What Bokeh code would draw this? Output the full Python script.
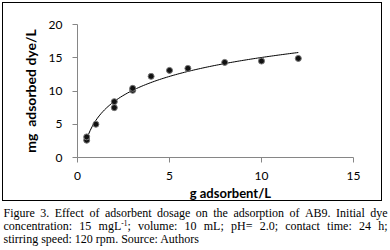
import numpy as np
from bokeh.plotting import figure
from bokeh.layouts import column
from bokeh.models import Range1d, FixedTicker
from bokeh.core.properties import value
from bokeh.embed import file_html
from bokeh.resources import INLINE

# data
dose = [0.5, 0.5, 1, 2, 2, 3, 3, 4, 5, 6, 8, 10, 12]
adsorbed = [2.6, 3.1, 5.0, 8.4, 7.5, 10.1, 10.4, 12.2, 13.1, 13.4, 14.3, 14.5, 14.9]
x_ticks = [0, 5, 10, 15]
y_ticks = [0, 5, 10, 15, 20]
x_title = "g adsorbent/L"
y_title = "mg\u00a0 adsorbed dye/L"
caption_line1 = "Figure 3. Effect of adsorbent dosage on the adsorption of AB9. Initial dye".split(" ")
caption_line2 = ["concentration:", "15", ("mgL", "-1", ";"), "volume:", "10", "mL;", "pH=", "2.0;",
                 "contact", "time:", "24", "h;"]
caption_line3 = "stirring speed: 120 rpm. Source: Authors"

# logarithmic trend line fitted to the data
b, a = np.polyfit(np.log(dose), adsorbed, 1)
fit_x = np.linspace(0.5, 12, 120)
fit_y = a + b * np.log(fit_x)

BL, BR, FW, FH = 74, 28, 276, 133

chart = figure(output_backend="svg", toolbar_location=None,
               frame_width=FW, frame_height=FH,
               min_border_left=BL, min_border_right=BR, min_border_top=21, min_border_bottom=26,
               x_range=Range1d(0, 15), y_range=Range1d(0, 20))
chart.background_fill_color = "white"
chart.border_fill_color = "white"
chart.outline_line_color = None
chart.xgrid.visible = False
chart.ygrid.visible = False

for ax in (chart.xaxis[0], chart.yaxis[0]):
    ax.axis_line_color = "#868686"
    ax.major_tick_line_color = "#868686"
    ax.minor_tick_line_color = None
    ax.major_tick_in = 0
    ax.major_tick_out = 5
    ax.major_label_text_font = "Lato"
    ax.major_label_text_font_size = "12px"
    ax.major_label_text_color = "black"
chart.xaxis[0].ticker = FixedTicker(ticks=x_ticks)
chart.yaxis[0].ticker = FixedTicker(ticks=y_ticks)
chart.xaxis[0].major_label_standoff = 9
chart.yaxis[0].major_label_standoff = 10
chart.yaxis[0].axis_label = y_title
chart.yaxis[0].axis_label_text_font = "Lato"
chart.yaxis[0].axis_label_text_font_style = "bold"
chart.yaxis[0].axis_label_text_font_size = "14px"
chart.yaxis[0].axis_label_text_color = "black"
chart.yaxis[0].axis_label_standoff = 7

chart.line(fit_x, fit_y, line_color="black", line_width=1)
chart.scatter(dose, adsorbed, size=6, fill_color="#111111", line_color="#777777", line_width=1)

# x-axis title strip under the chart, sharing the chart's x scale
XL_H = 17
xlab = figure(output_backend="svg", toolbar_location=None,
              frame_width=FW, frame_height=XL_H,
              min_border_left=BL, min_border_right=BR, min_border_top=0, min_border_bottom=0,
              x_range=chart.x_range, y_range=Range1d(XL_H, 0))
xlab.axis.visible = False
xlab.grid.visible = False
xlab.outline_line_color = None
xlab.background_fill_color = "white"
xlab.border_fill_color = "white"
xlab.text(x=[6.1], y=[9.2], text=[x_title], text_font=value("Lato"), text_font_style="bold",
          text_font_size="13px", text_baseline="middle", text_align="left", text_color="black")

boxed = column(chart, xlab, spacing=0)
boxed.styles = {"border": "1.5px solid black", "margin-left": "2px", "margin-top": "2px"}

# ---- caption: separate axis-less figure, text justified with Times metrics ----
TIMES = {
    " ": 250, ".": 250, ",": 250, ":": 278, ";": 278, "=": 564, "-": 333, "/": 278,
    "0": 500, "1": 500, "2": 500, "3": 500, "4": 500, "5": 500, "6": 500, "7": 500, "8": 500, "9": 500,
    "a": 444, "b": 500, "c": 444, "d": 500, "e": 444, "f": 333, "g": 500, "h": 500, "i": 278,
    "j": 278, "k": 500, "l": 278, "m": 778, "n": 500, "o": 500, "p": 500, "q": 500, "r": 333,
    "s": 389, "t": 278, "u": 500, "v": 500, "w": 722, "x": 500, "y": 500, "z": 444,
    "A": 722, "B": 667, "E": 611, "F": 556, "H": 722, "I": 333, "L": 611, "M": 889, "S": 556,
}
FS = 12.0
SUP = 0.62
CAP_W, CAP_H = 390, 48
LEFT, RIGHT = 3, 387


def tw(s, size=FS):
    return sum(TIMES.get(c, 500) for c in s) * size / 1000.0


def word_w(w):
    if isinstance(w, tuple):
        return tw(w[0]) + tw(w[1], FS * SUP) + tw(w[2])
    return tw(w)


cap = figure(output_backend="svg", toolbar_location=None,
             frame_width=CAP_W, frame_height=CAP_H,
             min_border_left=0, min_border_right=0, min_border_top=0, min_border_bottom=0,
             x_range=Range1d(0, CAP_W), y_range=Range1d(CAP_H, 0))
cap.axis.visible = False
cap.grid.visible = False
cap.outline_line_color = None
cap.background_fill_color = "white"
cap.border_fill_color = "white"

line_y = [11.2, 24.5, 37.8]
nx, ny, nt = [], [], []
sx, sy, st = [], [], []


def place_justified(words, yy):
    total = sum(word_w(w) for w in words)
    gap = (RIGHT - LEFT - total) / (len(words) - 1)
    x = LEFT
    for w in words:
        if isinstance(w, tuple):
            nx.append(x); ny.append(yy); nt.append(w[0])
            xs2 = x + tw(w[0])
            sx.append(xs2); sy.append(yy - 3.5); st.append(w[1])
            xs3 = xs2 + tw(w[1], FS * SUP)
            nx.append(xs3); ny.append(yy); nt.append(w[2])
        else:
            nx.append(x); ny.append(yy); nt.append(w)
        x += word_w(w) + gap


place_justified(caption_line1, line_y[0])
place_justified(caption_line2, line_y[1])
nx.append(LEFT); ny.append(line_y[2]); nt.append(caption_line3)

cap.text(x=nx, y=ny, text=nt, text_font=value("Liberation Serif"), text_font_size=f"{FS}px",
         text_baseline="middle", text_align="left", text_color="black")
cap.text(x=sx, y=sy, text=st, text_font=value("Liberation Serif"), text_font_size=f"{FS * SUP:.1f}px",
         text_baseline="middle", text_align="left", text_color="black")

open("out.html", "w").write(file_html([boxed, cap], INLINE))
